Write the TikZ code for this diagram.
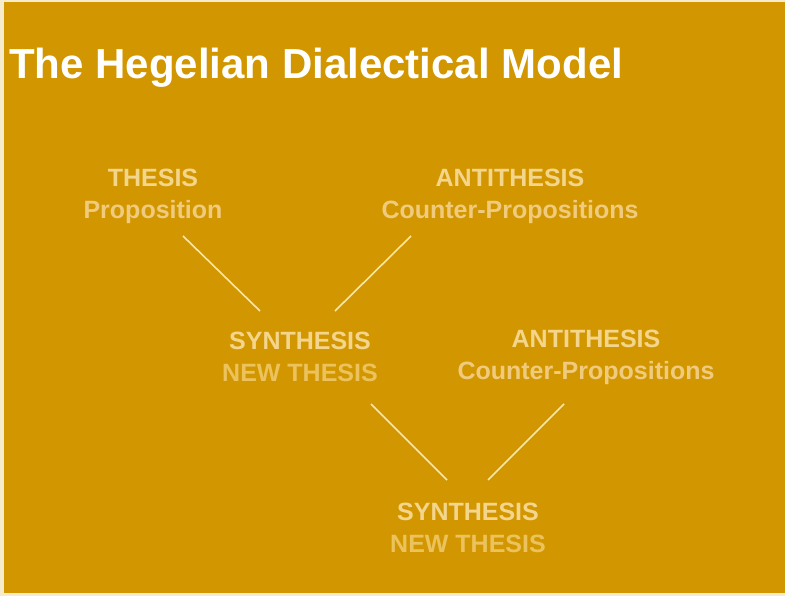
\documentclass[tikz,border=0pt]{standalone}
\usepackage{fontspec}
\setmainfont{Liberation Sans}
\usepackage{tikz}
\usetikzlibrary{positioning,calc}
\definecolor{gold}{HTML}{D29700}
\definecolor{paper}{HTML}{F6EBCB}
\definecolor{headtxt}{HTML}{F4D58C}
\definecolor{subtxt}{HTML}{F0CB7E}
\definecolor{newtxt}{HTML}{EBC25C}
\definecolor{link}{HTML}{FBE6A6}

\begin{document}
\begin{tikzpicture}[x=1pt,y=-1pt]
  \tikzset{stage/.style={align=center,inner sep=0pt,font=\bfseries\fontsize{25}{32}\selectfont},
    link/.style={draw=link,line width=1.6pt}}
  \useasboundingbox (0,0) rectangle (785,596);
  \fill[paper] (0,0) rectangle (785,596);
  \fill[gold] (4,2) rectangle (785,593);
  \node[anchor=base west,inner sep=0pt,text=white,font=\bfseries\fontsize{42}{48}\selectfont] (title) at (9,79) {The Hegelian Dialectical Model};
  \node[stage] (thesis) at (153,196) {\color{headtxt}THESIS\\\color{subtxt}Proposition};
  \node[stage] (anti1) at (510,196) {\color{headtxt}ANTITHESIS\\\color{subtxt}Counter-Propositions};
  \node[stage] (syn1) at (300,357) {\color{headtxt}SYNTHESIS\\\color{newtxt}NEW THESIS};
  \node[stage] (anti2) at (586,357) {\color{headtxt}ANTITHESIS\\\color{subtxt}Counter-Propositions};
  \node[stage] (syn2) at (468,528) {\color{headtxt}SYNTHESIS\\\color{newtxt}NEW THESIS};
  \coordinate (t1) at (183,236); \coordinate (s1a) at (260,311);
  \coordinate (a1) at (411,236); \coordinate (s1b) at (335,311);
  \coordinate (s1c) at (371,404); \coordinate (s2a) at (447,480);
  \coordinate (a2) at (564,404); \coordinate (s2b) at (488,480);
  \draw[link] (t1) -- (s1a);
  \draw[link] (a1) -- (s1b);
  \draw[link] (s1c) -- (s2a);
  \draw[link] (a2) -- (s2b);
\end{tikzpicture}
\end{document}
